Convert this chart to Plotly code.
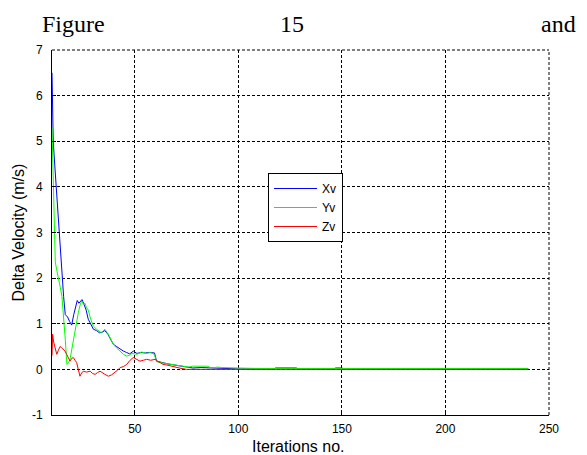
import plotly.graph_objects as go

# ---- data ----
xv_x = [10, 10.1, 10.3, 10.6, 11.3, 12, 12.7, 13.4, 14.1, 14.8, 15.6, 16.4, 17.0, 17.5, 18.5, 19.5, 20.5, 21.5, 22.2,
        23.0, 23.8, 24.5, 25.5, 26.5, 27.5, 29.0, 30.0, 31.5, 33.0, 34.5, 35.5, 37.0, 38.3, 39.6, 41.2, 42.8, 44.5,
        46.0, 47.5, 49.3, 51.0, 53.0, 55.0, 57.0, 59.5, 60.5, 62.0, 63.6, 66.0, 68.5, 71.0, 74.0, 78.0, 82.0, 86.0,
        90.0, 95.0, 100, 110, 117, 118, 128, 129, 146, 147, 150, 151, 175, 200, 240]
xv_y = [6.5, 6.2, 5.3, 5.0, 4.5, 4.0, 3.5, 3.0, 2.5, 2.0, 1.6, 1.2, 1.17, 1.15, 1.05, 0.97, 1.2, 1.35, 1.51,
        1.45, 1.5, 1.53, 1.42, 1.3, 1.1, 0.95, 0.88, 0.85, 0.8, 0.82, 0.85, 0.77, 0.65, 0.55, 0.5, 0.45, 0.4,
        0.37, 0.34, 0.4, 0.35, 0.37, 0.36, 0.37, 0.36, 0.18, 0.16, 0.15, 0.12, 0.1, 0.08, 0.06, 0.03, 0.04, 0.03,
        0.02, 0.02, 0.01, 0.01, 0.01, 0.03, 0.03, 0.01, 0.01, 0.03, 0.03, 0.01, 0.01, 0.01, 0.01]

yv_x = [10, 10.2, 10.5, 10.8, 11.2, 11.6, 12.4, 13.2, 14.0, 14.8, 15.6, 16.4, 17.2, 18.0, 18.7, 19.5, 20.3, 21.1,
        21.9, 22.7, 23.5, 24.3, 25.1, 25.9, 26.7, 27.5, 28.7, 29.9, 31.5, 32.7, 33.9, 35.5, 37.2, 38.4, 39.6, 41.2,
        42.9, 44.5, 46.1, 47.3, 48.5, 50.9, 53.3, 55.5, 57.6, 59.4, 60.5, 62.0, 63.6, 66.0, 68.5, 71.0, 74.0,
        76.0, 78.0, 85.0, 87.0, 90.0, 92.0, 96.0, 100, 110, 120, 150, 175, 200, 240]
yv_y = [5.3, 5.0, 4.2, 3.6, 3.0, 2.35, 2.15, 2.0, 1.8, 1.6, 1.17, 0.66, 0.11, 0.15, 0.22, 0.44, 0.65, 0.88,
        1.05, 1.24, 1.4, 1.5, 1.43, 1.45, 1.35, 1.3, 1.1, 0.95, 0.88, 0.84, 0.8, 0.88, 0.77, 0.66, 0.55, 0.47,
        0.4, 0.33, 0.29, 0.31, 0.35, 0.33, 0.38, 0.35, 0.37, 0.33, 0.17, 0.15, 0.14, 0.12, 0.1, 0.08, 0.06,
        0.05, 0.07, 0.07, 0.03, 0.05, 0.04, 0.04, 0.03, 0.02, 0.02, 0.02, 0.02, 0.02, 0.02]

zv_x = [10, 10.3, 10.8, 11.4, 12.3, 13.1, 13.9, 14.7, 15.5, 16.3, 17.1, 17.9, 18.7, 19.5, 20.3, 21.1, 21.9, 22.7,
        23.5, 24.3, 25.1, 26.7, 28.4, 29.6, 30.8, 32.0, 33.2, 35.2, 37.2, 38.8, 40.4, 41.6, 42.9, 44.5, 46.1,
        47.7, 49.3, 50.9, 52.5, 54.1, 55.7, 57.7, 59.8, 61.0, 62.2, 63.6, 66.0, 68.5, 71.5, 75.0, 90, 120, 160,
        200, 240]
zv_y = [0.3, 0.77, 0.6, 0.47, 0.33, 0.42, 0.5, 0.47, 0.44, 0.4, 0.33, 0.25, 0.18, 0.24, 0.26, 0.2, 0.15, 0.0,
        -0.15, -0.08, -0.04, -0.06, -0.04, -0.09, -0.11, -0.07, -0.04, -0.1, -0.15, -0.12, -0.07, -0.02, 0.04,
        0.06, 0.11, 0.2, 0.26, 0.22, 0.18, 0.2, 0.22, 0.2, 0.22, 0.18, 0.15, 0.11, 0.09, 0.06, 0.03, 0.0, 0.0,
        0.0, 0.0, 0.0, 0.0]

series_names = ["Xv", "Yv", "Zv"]
series_colors = ["#0000FF", "#00FF00", "#FF0000"]

x_ticks = [50, 100, 150, 200, 250]
y_ticks = [-1, 0, 1, 2, 3, 4, 5, 6, 7]

x_title = "Iterations no."
y_title = "Delta Velocity (m/s)"

W, H = 587, 455
L, R, T, B = 52, 38, 50, 40
pw, ph = W - L - R, H - T - B

fig = go.Figure()
for name, xs, ys, col in zip(series_names, [xv_x, yv_x, zv_x], [xv_y, yv_y, zv_y], series_colors):
    fig.add_trace(go.Scatter(x=xs, y=ys, mode="lines", name=name,
                             line=dict(color=col, width=1)))

sans = "Liberation Sans, Arial, sans-serif"
tick_font = dict(family=sans, size=12, color="#000000")
title_font = dict(family=sans, size=16, color="#000000")

fig.update_layout(
    width=W, height=H,
    margin=dict(l=L, r=R, t=T, b=B, pad=0, autoexpand=False),
    paper_bgcolor="white", plot_bgcolor="white",
    font=tick_font,
    showlegend=True,
    legend=dict(x=(268 - L) / pw, y=(H - B - 173) / ph, xanchor="left", yanchor="top",
                bgcolor="white", bordercolor="#000000", borderwidth=1,
                font=dict(family=sans, size=12, color="#000000"),
                tracegroupgap=0, itemwidth=43),
    xaxis=dict(range=[10, 250], tickvals=x_ticks, ticktext=[str(v) for v in x_ticks],
               showgrid=True, gridcolor="#000000", gridwidth=1, griddash="3px,2px",
               zeroline=False, showline=True, linecolor="#000000", linewidth=1,
               ticks="inside", ticklen=4, tickcolor="#000000", mirror=False,
               ticklabelstandoff=3, automargin=False,
               tickfont=tick_font),
    yaxis=dict(range=[-1, 7], tickvals=y_ticks, ticktext=[str(v) for v in y_ticks],
               showgrid=True, gridcolor="#000000", gridwidth=1, griddash="3px,2px",
               zeroline=False, showline=True, linecolor="#000000", linewidth=1,
               ticks="inside", ticklen=4, tickcolor="#000000", mirror=False,
               ticklabelstandoff=6, automargin=False,
               tickfont=tick_font),
)

# axis titles placed as text
fig.add_annotation(text=x_title, xref="paper", yref="paper", x=(298 - L) / pw, y=(H - B - 446) / ph,
                   xanchor="center", yanchor="middle", showarrow=False, font=title_font)
fig.add_annotation(text=y_title, xref="paper", yref="paper", x=(18 - L) / pw, y=0.5, textangle=-90,
                   xanchor="center", yanchor="middle", showarrow=False, font=title_font)

# dotted top and right frame edges
fig.add_shape(type="line", xref="paper", yref="paper", x0=0, x1=1, y0=1, y1=1,
              line=dict(color="#000000", width=1, dash="3px,2px"))
fig.add_shape(type="line", xref="paper", yref="paper", x0=1, x1=1, y0=0, y1=1,
              line=dict(color="#000000", width=1, dash="3px,2px"))

# page text above the chart
serif = dict(family="Liberation Serif, Times New Roman, serif", size=24, color="#000000")
for txt, px, anchor in [("Figure", 40, "left"), ("15", 292, "center"), ("and", 578, "right")]:
    fig.add_annotation(text=txt, xref="paper", yref="paper", x=(px - L) / pw, y=(H - B - 24) / ph,
                       xanchor=anchor, yanchor="middle", showarrow=False, font=serif)

fig.write_html("out.html")
